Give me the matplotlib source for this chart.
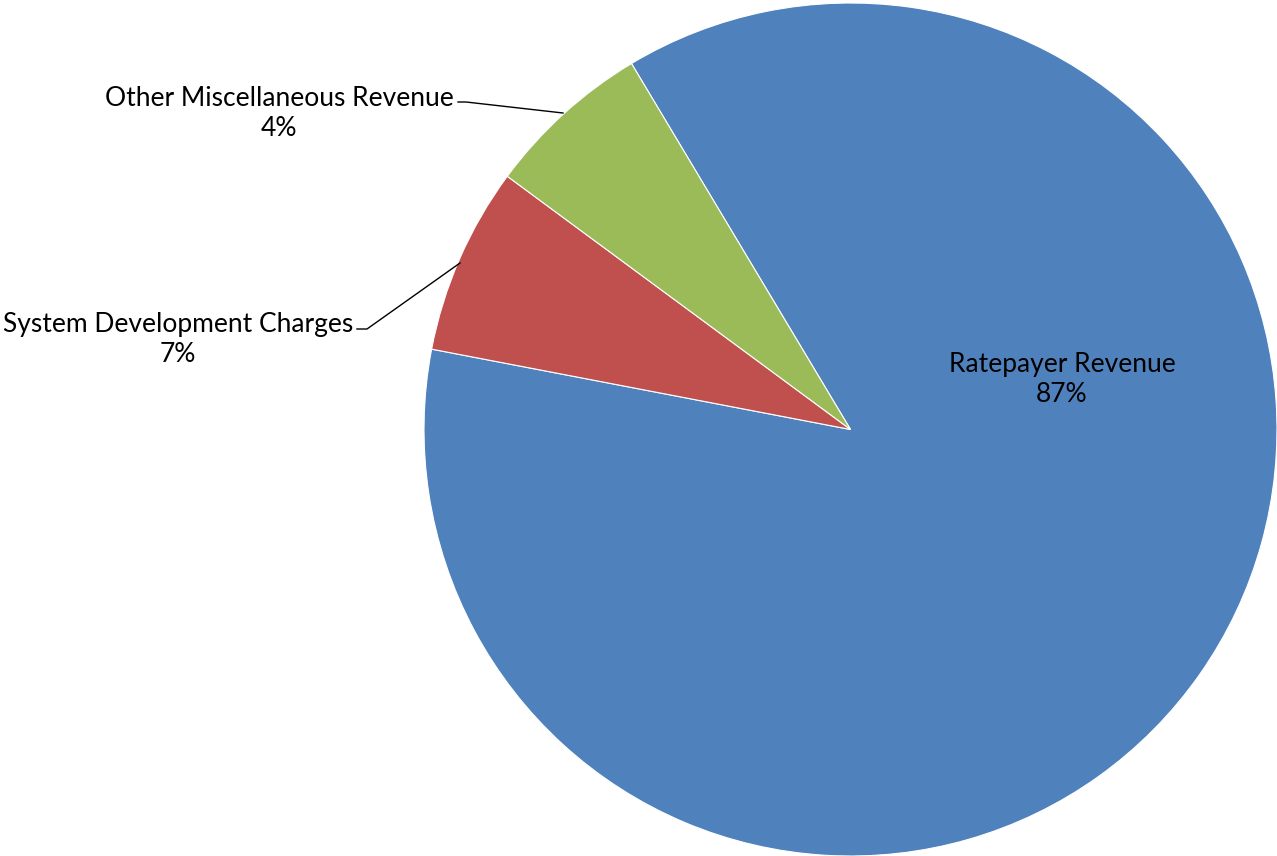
import matplotlib.pyplot as plt

# slice shares as drawn in the picture, and the printed data labels
categories = ['Ratepayer Revenue', 'System Development Charges', 'Other Miscellaneous Revenue']
shares = [86.6, 7.1, 6.3]
pct_labels = ['87%', '7%', '4%']
colors = ['#4F81BD', '#C0504D', '#9BBB59']

W, H = 1277, 856
fig = plt.figure(figsize=(W / 100, H / 100), dpi=100)
ax = fig.add_axes([0, 0, 1, 1])

cx, cy, r = 850.5, H - 429.5, 426.5
wedges, _ = ax.pie(shares, colors=colors, startangle=120.9, counterclock=False,
                   center=(cx, cy), radius=r,
                   wedgeprops=dict(edgecolor='white', linewidth=0.8))
ax.set_xlim(0, W)
ax.set_ylim(0, H)
ax.set_aspect('equal')
ax.axis('off')

font = dict(family=['Lato', 'DejaVu Sans'], fontsize=19, color='black',
            ha='center', va='center', linespacing=1.25)

# label inside the big slice
ax.text(1062, H - 379, categories[0] + '\n' + pct_labels[0], **font)

# outside labels with leader lines
ax.text(279, H - 113, categories[2] + '\n' + pct_labels[2], **font)
ax.plot([458, 466, 563], [H - 102, H - 102, H - 113], color='black', lw=1)

ax.text(178, H - 339, categories[1] + '\n' + pct_labels[1], **font)
ax.plot([357, 367, 460], [H - 329, H - 329, H - 263], color='black', lw=1)

fig.savefig('out.png', dpi=100)
